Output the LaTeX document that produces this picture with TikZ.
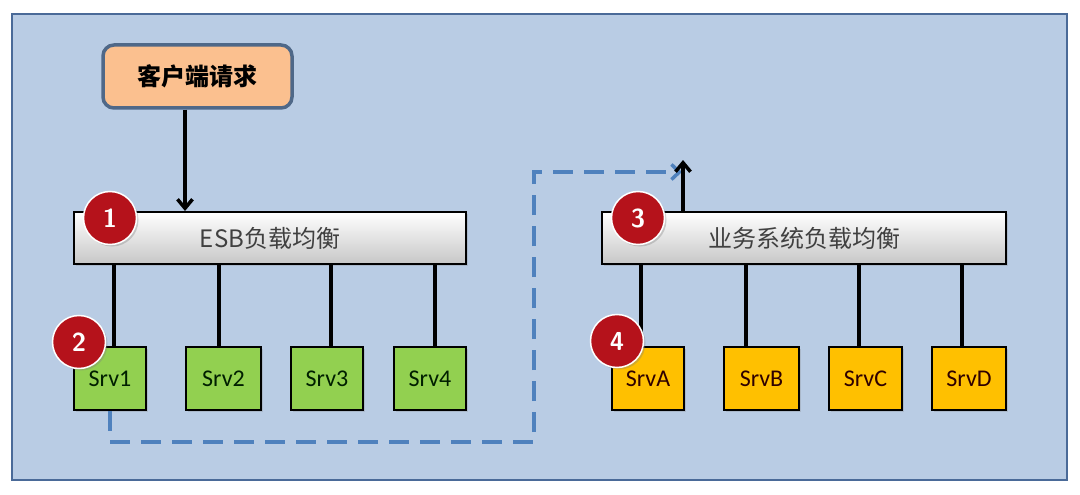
\documentclass[tikz,border=0pt]{standalone}
\usepackage{fontspec}
\setmainfont{Carlito}
\newfontfamily\cjk{Noto Sans CJK SC}
\usetikzlibrary{arrows.meta,shadows}
\definecolor{bgblue}{HTML}{B9CCE4}
\definecolor{frameblue}{HTML}{4A6A98}
\definecolor{peach}{HTML}{FBC08F}
\definecolor{peachframe}{HTML}{4F6888}
\definecolor{srvgreen}{HTML}{92D050}
\definecolor{srvorange}{HTML}{FFC000}
\definecolor{dashblue}{HTML}{4F81BD}
\definecolor{badgered}{HTML}{B5121B}
\tikzset{
  x=1pt,y=-1pt,
  lbbox/.style={draw=black,line width=2pt,top color=white,bottom color=black!22,
    minimum height=52pt,inner sep=0pt,font=\cjk\fontsize{24}{26}\selectfont,text=black!75,
    drop shadow={shadow xshift=2pt,shadow yshift=-2pt,opacity=0.25}},
  srvbox/.style={draw=black,line width=2pt,minimum height=63pt,inner sep=0pt,
    font=\fontsize{24}{26}\selectfont,
    drop shadow={shadow xshift=2pt,shadow yshift=-2pt,opacity=0.25}},
  gsrv/.style={srvbox,fill=srvgreen,text=black!80!green!60!black},
  osrv/.style={srvbox,fill=srvorange,text=black!70!red!60!black},
  badge/.style={circle,fill=badgered,draw=white,line width=1.5pt,minimum size=53pt,inner sep=0pt,
    text=white,font=\sffamily\bfseries\fontsize{26}{28}\selectfont,
    drop shadow={shadow xshift=2pt,shadow yshift=-2pt,opacity=0.35}},
  link/.style={line width=4.5pt,black},
  flow/.style={draw=dashblue,line width=3.5pt,dash pattern=on 20pt off 11pt},
}
\begin{document}
\begin{tikzpicture}
\useasboundingbox (0,0) rectangle (1080,495);
\fill[white] (0,0) rectangle (1080,495);
\draw[fill=bgblue,draw=frameblue,line width=2.5pt] (12,14) rectangle (1067,480);

% client request
\node[draw=peachframe,fill=peach,line width=3.5pt,rounded corners=11pt,minimum width=189pt,minimum height=63pt,
  inner sep=0pt,font=\cjk\bfseries\fontsize{24}{26}\selectfont] (client) at (197.5,76.5) {客户端请求};

% load balancers
\node[lbbox,minimum width=392pt] (esb) at (270,238) {ESB负载均衡};
\node[lbbox,minimum width=404pt] (biz) at (804,238) {业务系统负载均衡};

% servers
\node[gsrv,minimum width=72pt] (s1) at (110,378.5) {Srv1};
\node[gsrv,minimum width=75pt] (s2) at (223.5,378.5) {Srv2};
\node[gsrv,minimum width=72pt] (s3) at (327,378.5) {Srv3};
\node[gsrv,minimum width=72pt] (s4) at (430,378.5) {Srv4};
\node[osrv,minimum width=72pt] (sA) at (648,378.5) {SrvA};
\node[osrv,minimum width=75pt] (sB) at (761.5,378.5) {SrvB};
\node[osrv,minimum width=73pt] (sC) at (865.5,378.5) {SrvC};
\node[osrv,minimum width=74pt] (sD) at (969,378.5) {SrvD};

% links
\draw[link] (esb.south -| 114,0) -- (s1.north -| 114,0);
\draw[link] (esb.south -| 219,0) -- (s2.north -| 219,0);
\draw[link] (esb.south -| 331,0) -- (s3.north -| 331,0);
\draw[link] (esb.south -| 435,0) -- (s4.north -| 435,0);
\draw[link] (biz.south -| 641,0) -- (sA.north -| 641,0);
\draw[link] (biz.south -| 746,0) -- (sB.north -| 746,0);
\draw[link] (biz.south -| 859,0) -- (sC.north -| 859,0);
\draw[link] (biz.south -| 962,0) -- (sD.north -| 962,0);

% client arrow
\draw[line width=3.5pt,-{Straight Barb[length=9pt,width=15pt,line width=3.5pt]}] (client.south -| 185,0) -- (esb.north -| 185,0);

% dashed flow
\coordinate (fend) at (682,172);
\draw[flow,-{Straight Barb[length=8pt,width=15pt]}] (s1.south -| 110,0) -- (110,442) -- (534,442) -- (534,172) -- (fend);

% up arrow
\coordinate (upend) at (683,160);
\draw[line width=3.5pt,-{Straight Barb[length=9pt,width=15pt,line width=3.5pt]}] (biz.north -| 683,0) -- (upend);

% badges
\node[badge] (b1) at (110,218) {1};
\node[badge] (b2) at (79,342) {2};
\node[badge] (b3) at (638,218) {3};
\node[badge] (b4) at (617,341) {4};
\end{tikzpicture}
\end{document}
